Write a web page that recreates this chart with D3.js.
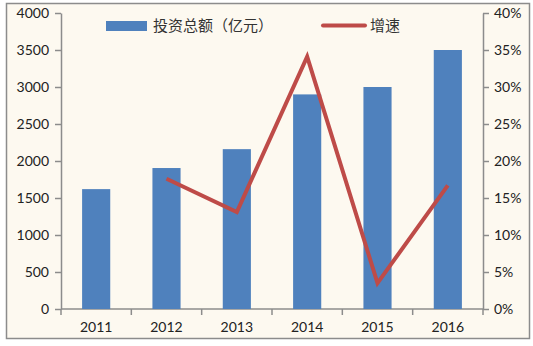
<!DOCTYPE html>
<html><head><meta charset="utf-8">
<script src="https://cdn.jsdelivr.net/npm/d3@7"></script>
<style>body{margin:0;background:#fff}svg{display:block}</style>
</head><body>
<svg id="c" width="533" height="346"></svg>
<script>
const years = ["2011","2012","2013","2014","2015","2016"];
const investment = [1620, 1905, 2160, 2900, 3000, 3500];
const growthYears = ["2012","2013","2014","2015","2016"];
const growth = [17.6, 13.1, 34.1, 3.5, 16.7];
const leftTicks = [0,500,1000,1500,2000,2500,3000,3500,4000];
const rightTicks = [0,5,10,15,20,25,30,35,40];
const seriesNames = ["投资总额（亿元）", "增速"];

const svg = d3.select("#c");
const font = "Lato, 'Noto Sans', sans-serif";
const cjk = "'Noto Sans CJK SC', sans-serif";
svg.append("rect").attr("x",6.5).attr("y",3.5).attr("width",523).attr("height",335)
  .attr("fill","#fdf9f0").attr("stroke","#8c8c8c").attr("stroke-width",1.5);

const L=61, R=483, T=13, B=309;
const x = d3.scaleBand().domain(years).range([L,R]).paddingInner(0.6).paddingOuter(0.3);
const y = d3.scaleLinear().domain([0,4000]).range([B,T]);
const y2 = d3.scaleLinear().domain([0,40]).range([B,T]);

const axisColor = "#8c8c8c";
function style(g){
  g.selectAll("path.domain").attr("stroke",axisColor).attr("stroke-width",1.5);
  g.selectAll(".tick line").attr("stroke",axisColor).attr("stroke-width",1.5);
  g.selectAll("text").attr("fill","#222").style("font-family",font).style("font-size","14px");
}
svg.append("g").attr("transform",`translate(${L},0)`)
  .call(d3.axisLeft(y).tickValues(leftTicks).tickSize(6).tickSizeOuter(0).tickPadding(6).tickFormat(d3.format("d")))
  .call(style);
svg.append("g").attr("transform",`translate(${R},0)`)
  .call(d3.axisRight(y2).tickValues(rightTicks).tickSize(6).tickSizeOuter(0).tickPadding(5).tickFormat(d=>d+"%"))
  .call(style);

// bottom axis with ticks at category boundaries
const xb = svg.append("g").attr("transform",`translate(0,${B})`);
xb.append("line").attr("x1",L).attr("x2",R).attr("stroke",axisColor).attr("stroke-width",1.5);
const step = x.step();
const bounds = d3.range(years.length+1).map(i=>L+i*(R-L)/years.length);
xb.selectAll("line.t").data(bounds).join("line").attr("class","t")
  .attr("x1",d=>d).attr("x2",d=>d).attr("y1",0).attr("y2",6).attr("stroke",axisColor).attr("stroke-width",1.5);
xb.selectAll("text").data(years).join("text")
  .attr("x",d=>x(d)+x.bandwidth()/2).attr("y",23).attr("text-anchor","middle")
  .attr("fill","#222").style("font-family",font).style("font-size","14px").text(d=>d);

svg.append("g").selectAll("rect").data(years).join("rect")
  .attr("x",d=>x(d)).attr("width",x.bandwidth())
  .attr("y",(d,i)=>y(investment[i])).attr("height",(d,i)=>B-y(investment[i]))
  .attr("fill","#4f81bd");

const line = d3.line().x((d,i)=>x(growthYears[i])+x.bandwidth()/2).y(d=>y2(d));
svg.append("path").datum(growth).attr("d",line).attr("fill","none")
  .attr("stroke","#be4b48").attr("stroke-width",4).attr("stroke-linejoin","miter");

// legend
svg.append("rect").attr("x",106).attr("y",21).attr("width",41).attr("height",10).attr("fill","#4f81bd");
svg.append("text").attr("x",153).attr("y",31).text(seriesNames[0])
  .attr("fill","#333").style("font-family",cjk).style("font-size","15px");
svg.append("line").attr("x1",323).attr("x2",365).attr("y1",25.5).attr("y2",25.5)
  .attr("stroke","#be4b48").attr("stroke-width",4).attr("stroke-linecap","round");
svg.append("text").attr("x",370).attr("y",31).text(seriesNames[1])
  .attr("fill","#333").style("font-family",cjk).style("font-size","15px");
</script>
</body></html>
